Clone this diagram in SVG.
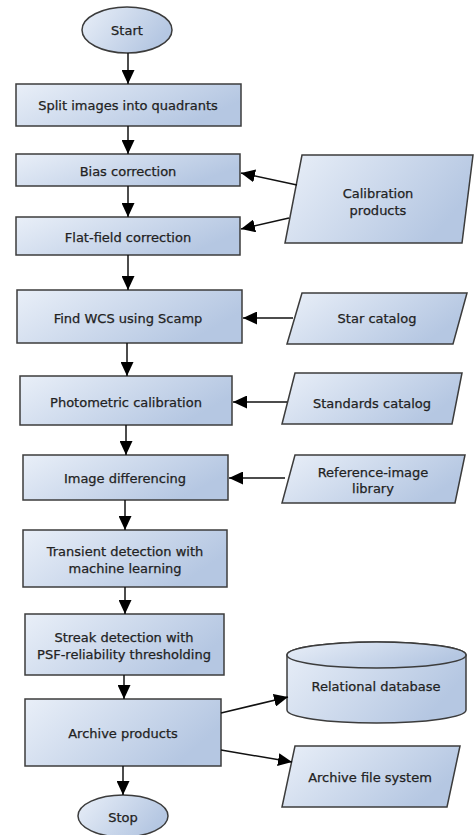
<svg xmlns="http://www.w3.org/2000/svg" width="474" height="835" viewBox="0 0 474 835">
<defs>
<linearGradient id="g" x1="0" y1="0" x2="1" y2="0.4">
<stop offset="0" stop-color="#e9eff8"/>
<stop offset="1" stop-color="#b5c7e2"/>
</linearGradient>
<marker id="ah" markerUnits="userSpaceOnUse" markerWidth="15" markerHeight="13" refX="14" refY="6.5" orient="auto">
<path d="M0,0 L14,6.5 L0,13 Z" fill="#000"/>
</marker>
<style>
.s{fill:url(#g);stroke:#3c3c3c;stroke-width:1.5}
.t{font-family:"DejaVu Sans",sans-serif;font-size:13px;fill:#222;stroke:#222;stroke-width:0.25;text-anchor:middle;dominant-baseline:central}
.c{fill:none;stroke:#111;stroke-width:1.5;marker-end:url(#ah)}
</style>
</defs>
<rect width="474" height="835" fill="#fff"/>
<g id="start"><ellipse class="s" cx="127" cy="30" rx="45" ry="23"/><text class="t" x="127" y="30">Start</text></g>
<g id="split"><rect class="s" x="16" y="84" width="225" height="42"/><text class="t" x="128" y="105">Split images into quadrants</text></g>
<g id="bias"><rect class="s" x="16" y="154" width="224" height="32"/><text class="t" x="128" y="171">Bias correction</text></g>
<g id="flat"><rect class="s" x="16" y="217" width="224" height="38"/><text class="t" x="128" y="237">Flat-field correction</text></g>
<g id="calib"><path class="s" d="M302,155 L473,155 L462,243 L285,243 Z"/><text class="t" x="378" y="193">Calibration</text><text class="t" x="378" y="210">products</text></g>
<g id="wcs"><rect class="s" x="17" y="290" width="225" height="53"/><text class="t" x="128" y="318">Find WCS using Scamp</text></g>
<g id="star"><path class="s" d="M302,293 L467,293 L453,344 L287,344 Z"/><text class="t" x="377" y="318">Star catalog</text></g>
<g id="photo"><rect class="s" x="20" y="376" width="212" height="49"/><text class="t" x="126" y="402">Photometric calibration</text></g>
<g id="standards"><path class="s" d="M295,373 L462,373 L452,424 L282,424 Z"/><text class="t" x="372" y="403">Standards catalog</text></g>
<g id="diff"><rect class="s" x="23" y="455" width="205" height="45"/><text class="t" x="125" y="478">Image differencing</text></g>
<g id="refimg"><path class="s" d="M295,455 L465,455 L455,503 L282,503 Z"/><text class="t" x="373" y="472">Reference-image</text><text class="t" x="373" y="488">library</text></g>
<g id="transient"><rect class="s" x="23" y="530" width="204" height="57"/><text class="t" x="125" y="551">Transient detection with</text><text class="t" x="125" y="568">machine learning</text></g>
<g id="streak"><rect class="s" x="25" y="614" width="199" height="61"/><text class="t" x="124" y="637">Streak detection with</text><text class="t" x="124" y="654">PSF-reliability thresholding</text></g>
<g id="db"><path class="s" d="M287,655 A89.5,13 0 0 1 466,655 L466,710 A89.5,13 0 0 1 287,710 Z"/><ellipse class="s" cx="376.5" cy="655" rx="89.5" ry="13"/><text class="t" x="376" y="686">Relational database</text></g>
<g id="archive"><rect class="s" x="25" y="699" width="196" height="67"/><text class="t" x="123" y="733">Archive products</text></g>
<g id="afs"><path class="s" d="M295,746 L460,746 L447,807 L282,807 Z"/><text class="t" x="370" y="777">Archive file system</text></g>
<g id="stop"><ellipse class="s" cx="123" cy="816" rx="45" ry="21"/><text class="t" x="123" y="817">Stop</text></g>
<g id="connectors">
<path class="c" d="M128,53 L128,84"/>
<path class="c" d="M128,126 L128,154"/>
<path class="c" d="M128,186 L128,217"/>
<path class="c" d="M128,255 L128,290"/>
<path class="c" d="M127,343 L127,376"/>
<path class="c" d="M126,425 L126,455"/>
<path class="c" d="M125,500 L125,530"/>
<path class="c" d="M125,587 L125,614"/>
<path class="c" d="M124,675 L124,699"/>
<path class="c" d="M123,766 L123,795"/>
<path class="c" d="M297,185 L241,173"/>
<path class="c" d="M289,218 L241,229"/>
<path class="c" d="M293,318 L243,318"/>
<path class="c" d="M287,402 L233,402"/>
<path class="c" d="M285,478 L229,478"/>
<path class="c" d="M221,713 L288,697"/>
<path class="c" d="M221,750 L292,762"/>
</g>
</svg>
